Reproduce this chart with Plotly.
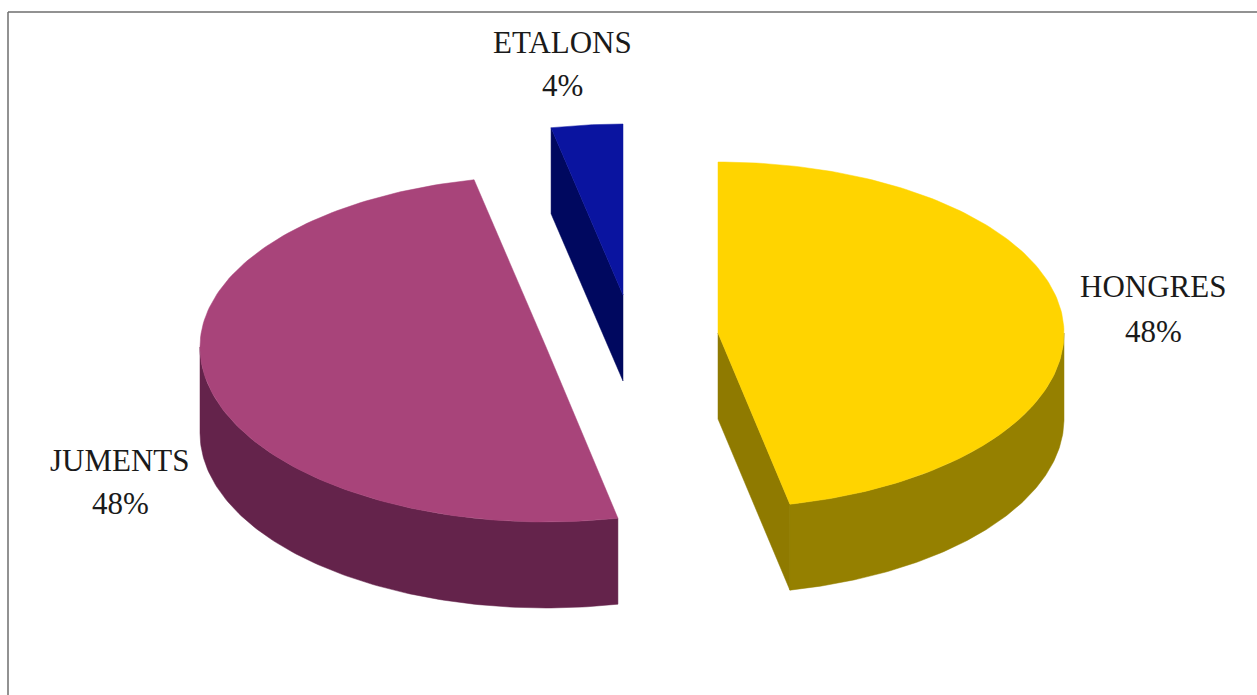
import numpy as np
import plotly.graph_objects as go

# --- data ---
categories = ["HONGRES", "JUMENTS", "ETALONS"]
shares = [48, 48, 4]

# --- drawing style: exploded 3D pie projected on the page ---
centres = [(718, 333), (546, 347), (623, 295)]   # exploded slice centres
RX, RY_BACK, RY_FRONT, DEPTH = 346, 171, 175, 86
top_colours = ["#FFD400", "#A8447A", "#0A14A0"]
side_colours = ["#958000", "#64234B", "#000A6E"]
cut_colours = ["#8F7A00", "#64234B", "#00085F"]
label_xy = [(1153, 286, 331), (120, 460, 503), (562, 42, 85)]
FONT = dict(family="Liberation Serif", size=31, color="#1a1a1a")


def warp(t):
    """Foreshortening of the perspective view: degrees on the pie -> degrees on the ellipse."""
    r = np.radians(t)
    return t - 23.8 * np.sin(r) + 7.3 * np.sin(2 * r)


def ellipse(c, t):
    r = np.radians(t)
    cos_t = np.cos(r)
    return c[0] + RX * np.sin(r), c[1] - np.where(cos_t > 0, RY_BACK, RY_FRONT) * cos_t


fig = go.Figure()
edges = np.concatenate([[0], np.cumsum(shares)]) / sum(shares) * 360


def poly(x, y, colour, name):
    fig.add_trace(go.Scatter(x=x, y=y, mode="lines", fill="toself", fillcolor=colour,
                             line=dict(color=colour, width=0.5), hoverinfo="text",
                             text=name, showlegend=False))


for i, cat in enumerate(categories):
    c = centres[i]
    a, b = warp(edges[i]), warp(edges[i + 1])
    t = np.linspace(a, b, 160)
    ax, ay = ellipse(c, t)

    # cut faces that look toward the viewer
    for edge in (a, b):
        ex, ey = ellipse(c, np.array([edge]))
        ex, ey = float(ex[0]), float(ey[0])
        if (i == 0 and edge == b) or (i == 2 and edge == a):
            poly([c[0], ex, ex, c[0], c[0]],
                 [c[1], ey, ey + DEPTH, c[1] + DEPTH, c[1]], cut_colours[i], cat)

    # rim on the front half of the ellipse
    lo, hi = max(a, 90), min(b, 270)
    if hi > lo:
        s = np.linspace(lo, hi, 120)
        sx, sy = ellipse(c, s)
        poly(np.concatenate([sx, sx[::-1], sx[:1]]),
             np.concatenate([sy, sy[::-1] + DEPTH, sy[:1]]), side_colours[i], cat)

    # top face
    poly(np.concatenate([[c[0]], ax, [c[0]]]),
         np.concatenate([[c[1]], ay, [c[1]]]), top_colours[i], cat)

    lx, ly1, ly2 = label_xy[i]
    fig.add_annotation(x=lx, y=ly1, text=cat, showarrow=False, font=FONT)
    fig.add_annotation(x=lx, y=ly2, text=f"{shares[i]}%", showarrow=False, font=FONT)

# chart frame (top and left rules)
for x0, y0, x1, y1 in [(8, 12, 1257, 12), (8, 12, 8, 695)]:
    fig.add_shape(type="line", x0=x0, y0=y0, x1=x1, y1=y1,
                  line=dict(color="#6e6e6e", width=1.5), layer="above")

fig.update_layout(
    width=1257, height=695, margin=dict(l=0, r=0, t=0, b=0),
    paper_bgcolor="white", plot_bgcolor="white", showlegend=False,
    xaxis=dict(range=[0, 1257], visible=False, fixedrange=True),
    yaxis=dict(range=[695, 0], visible=False, fixedrange=True),
)
fig.write_html("out.html", config=dict(displayModeBar=False),
               post_script="document.body.style.margin='0';document.documentElement.style.overflow='hidden';")
